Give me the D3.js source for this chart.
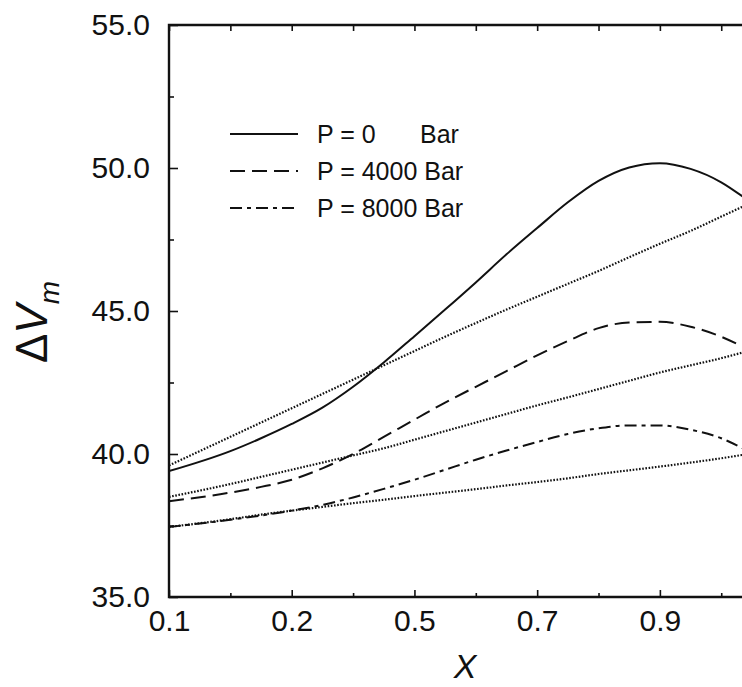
<!DOCTYPE html>
<html>
<head>
<meta charset="utf-8">
<script src="https://cdn.jsdelivr.net/npm/d3@7"></script>
<style>
  body { margin: 0; background: #fff; }
  svg { display: block; font-family: "Liberation Sans", Arial, sans-serif; }
</style>
</head>
<body>
<div id="chart"></div>
<script>
// values
const xTickValues = [0.1, 0.3, 0.5, 0.7, 0.9];
const xTickLabels = ["0.1", "0.2", "0.5", "0.7", "0.9"];   // as printed in the figure
const xMinorTicks = [0.2, 0.4, 0.6, 0.8, 1.0];
const yTickValues = [35, 40, 45, 50, 55];
const yMinorTicks = [37.5, 42.5, 47.5, 52.5];

const xs = [0.1, 0.2, 0.25, 0.3, 0.35, 0.4, 0.45, 0.5, 0.55, 0.6, 0.65, 0.7, 0.75, 0.8, 0.85, 0.9, 0.95, 1.0, 1.035];

// P = 0 Bar
const p0 = [39.4, 40.1, 40.55, 41.05, 41.62, 42.35, 43.2, 44.12, 45.05, 46.0, 46.98, 47.9, 48.8, 49.55, 50.02, 50.17, 49.97, 49.5, 49.0];
const p0Ideal = [39.6, 40.6, 41.1, 41.6, 42.1, 42.6, 43.1, 43.6, 44.1, 44.58, 45.05, 45.5, 45.95, 46.4, 46.88, 47.35, 47.8, 48.3, 48.65];
// P = 4000 Bar
const p4000 = [38.35, 38.65, 38.85, 39.1, 39.5, 40.0, 40.6, 41.2, 41.8, 42.35, 42.9, 43.45, 43.95, 44.4, 44.6, 44.62, 44.45, 44.1, 43.75];
const p4000Ideal = [38.5, 38.95, 39.2, 39.45, 39.7, 39.95, 40.2, 40.5, 40.8, 41.1, 41.4, 41.7, 41.98, 42.27, 42.56, 42.85, 43.1, 43.35, 43.55];
// P = 8000 Bar
const p8000 = [37.45, 37.7, 37.85, 38.02, 38.22, 38.48, 38.78, 39.1, 39.45, 39.8, 40.12, 40.42, 40.7, 40.9, 41.0, 41.0, 40.85, 40.55, 40.2];
const p8000Ideal = [37.45, 37.72, 37.88, 38.02, 38.15, 38.28, 38.4, 38.53, 38.65, 38.77, 38.9, 39.02, 39.15, 39.3, 39.43, 39.56, 39.7, 39.85, 39.97];

const legendLabels = ["P = 0", "P = 4000 Bar", "P = 8000 Bar"];

const width = 742, height = 687;
const margin = { left: 169, top: 25, bottom: 597 };

const svg = d3.select("#chart").append("svg")
  .attr("width", width)
  .attr("height", height);

svg.append("rect").attr("width", width).attr("height", height).attr("fill", "#fff");

const x = d3.scaleLinear().domain([0.1, 1.1]).range([margin.left, margin.left + 613.6]);
const y = d3.scaleLinear().domain([35, 55]).range([margin.bottom, margin.top]);

// curves
const dotted = "1.6,1.6";
const series = [
  { vals: p0, dash: null },
  { vals: p0Ideal, dash: dotted },
  { vals: p4000, dash: "15,7" },
  { vals: p4000Ideal, dash: dotted },
  { vals: p8000, dash: "12,5,4,5" },
  { vals: p8000Ideal, dash: dotted }
];

const line = d3.line()
  .x((d, i) => x(xs[i]))
  .y(d => y(d))
  .curve(d3.curveMonotoneX);

svg.append("clipPath").attr("id", "plot")
  .append("rect")
  .attr("x", margin.left).attr("y", margin.top)
  .attr("width", width - margin.left).attr("height", margin.bottom - margin.top);

svg.append("g").attr("clip-path", "url(#plot)")
  .selectAll("path")
  .data(series)
  .join("path")
  .attr("d", d => line(d.vals))
  .attr("fill", "none")
  .attr("stroke", "#111")
  .attr("stroke-width", d => d.dash === dotted ? 2.2 : 2)
  .attr("stroke-dasharray", d => d.dash);

// axes, ticks pointing inward
const yAxis = d3.axisLeft(y).tickValues(yTickValues).tickSize(-9).tickPadding(19)
  .tickFormat(d3.format(".1f"));
const gy = svg.append("g").attr("transform", `translate(${margin.left},0)`).call(yAxis);
gy.select(".domain").remove();
gy.selectAll("text").style("font-size", "30px").attr("fill", "#111");

const gy2 = svg.append("g").attr("transform", `translate(${margin.left},0)`)
  .call(d3.axisLeft(y).tickValues(yMinorTicks).tickSize(-5).tickFormat(""));
gy2.select(".domain").remove();

const xAxis = d3.axisBottom(x).tickValues(xTickValues).tickSize(-7).tickPadding(13)
  .tickFormat((d, i) => xTickLabels[i]);
const gx = svg.append("g").attr("transform", `translate(0,${margin.bottom})`).call(xAxis);
gx.select(".domain").remove();
gx.selectAll("text").style("font-size", "30px").attr("fill", "#111");

const gx2 = svg.append("g").attr("transform", `translate(0,${margin.bottom})`)
  .call(d3.axisBottom(x).tickValues(xMinorTicks).tickSize(-4).tickFormat(""));
gx2.select(".domain").remove();

const gt = svg.append("g").attr("transform", `translate(0,${margin.top})`)
  .call(d3.axisTop(x).tickValues(xTickValues.concat(xMinorTicks)).tickSize(-6).tickFormat(""));
gt.select(".domain").remove();

svg.selectAll(".tick line").attr("stroke", "#111").attr("stroke-width", 1.6);

// frame (right side is outside the picture)
svg.append("path")
  .attr("d", `M${width + 5},${margin.top}H${margin.left}V${margin.bottom}H${width + 5}`)
  .attr("fill", "none")
  .attr("stroke", "#111")
  .attr("stroke-width", 2.4);

// axis titles
svg.append("text")
  .attr("x", 465).attr("y", 678)
  .attr("text-anchor", "middle")
  .style("font-size", "34px")
  .style("font-style", "italic")
  .attr("fill", "#111")
  .text("X");

const yt = svg.append("text")
  .attr("transform", "translate(47,322) rotate(-90)")
  .attr("text-anchor", "middle")
  .style("font-size", "44px")
  .attr("fill", "#111");
yt.append("tspan").text("Δ");
yt.append("tspan").style("font-style", "italic").text("V");
yt.append("tspan").attr("dy", 12).style("font-size", "28px").style("font-style", "italic").text("m");

// legend
const legend = svg.append("g").attr("transform", "translate(230,134)");
const legendDash = [null, "15,7", "12,5,4,5"];
const rows = legend.selectAll("g")
  .data(legendLabels)
  .join("g")
  .attr("transform", (d, i) => `translate(0,${i * 37})`);

rows.append("line")
  .attr("x1", 0).attr("x2", 68)
  .attr("stroke", "#111")
  .attr("stroke-width", 2)
  .attr("stroke-dasharray", (d, i) => legendDash[i]);

rows.append("text")
  .attr("x", 87).attr("y", 9)
  .style("font-size", "25px")
  .attr("fill", "#111")
  .text(d => d);

legend.append("text")
  .attr("x", 190).attr("y", 9)
  .style("font-size", "25px")
  .attr("fill", "#111")
  .text("Bar");
</script>
</body>
</html>
